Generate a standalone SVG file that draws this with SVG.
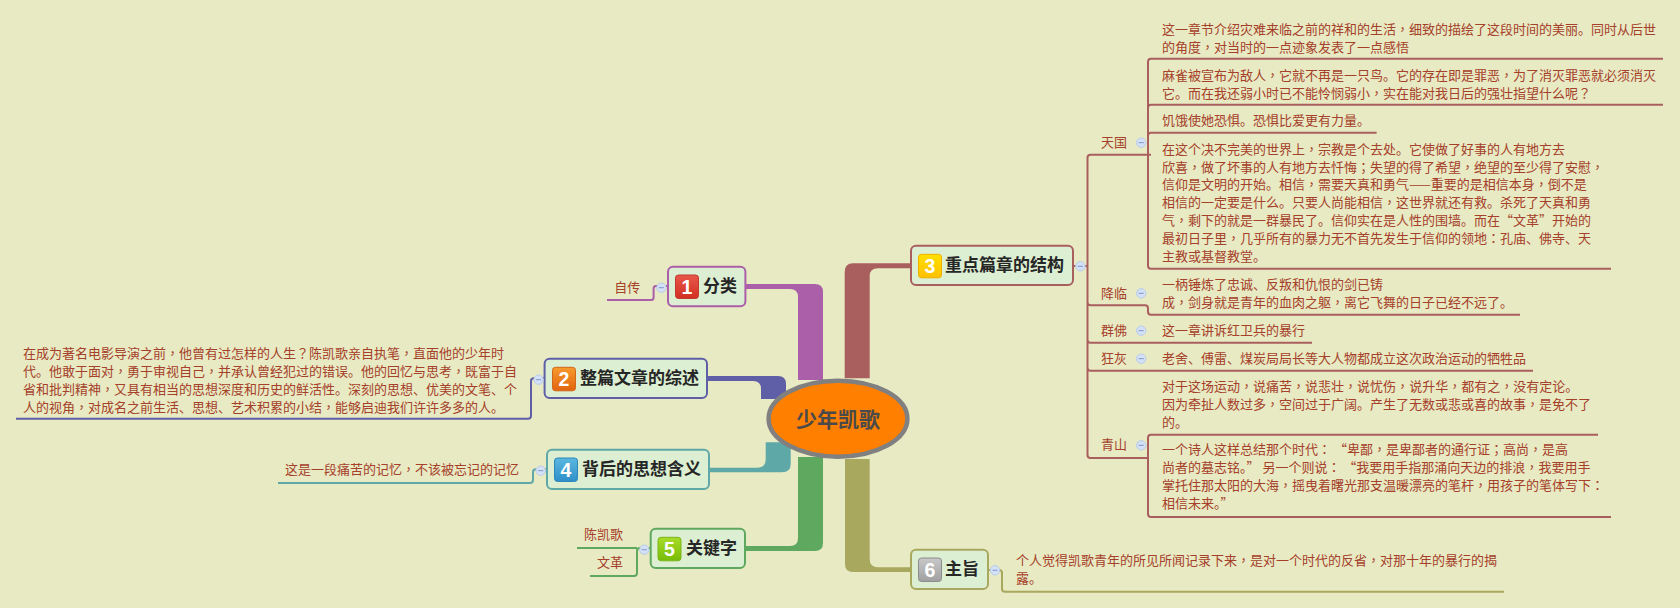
<svg xmlns="http://www.w3.org/2000/svg" width="1680" height="608" viewBox="0 0 1680 608">
<defs>
<style>
text{font-family:"Noto Sans CJK SC","Liberation Sans",sans-serif}
.t{font-size:13px;fill:#a5402a;transform:translateY(-.7px)}
.p{font-family:"Noto Sans CJK TC","Liberation Sans",sans-serif}
.h{font-size:17px;font-weight:700;fill:#262626}
.n{font-family:"Liberation Sans",sans-serif;font-size:19.500px;font-weight:700;fill:#fff;text-anchor:middle}
.box{fill:#dcefd2;stroke-width:2}
.l{fill:none;stroke-width:2}
.ic{stroke-width:1}
.tg circle{fill:#d3e0f5;stroke:#b9cdea;stroke-width:1}
.tg path{stroke:#7f97c8;stroke-width:1;fill:none}
.c1{stroke:#aa5fa8}.c2{stroke:#5f5fa8}.c3{stroke:#aa5f5f}.c4{stroke:#5fa8a8}.c5{stroke:#5fa85f}.c6{stroke:#a8a85f}
</style>
<linearGradient id="g1" x1="0" y1="0" x2="0" y2="1"><stop offset="0" stop-color="#e8574a"/><stop offset="1" stop-color="#d22f22"/></linearGradient>
<linearGradient id="g2" x1="0" y1="0" x2="0" y2="1"><stop offset="0" stop-color="#f79a2e"/><stop offset="1" stop-color="#e2640e"/></linearGradient>
<linearGradient id="g3" x1="0" y1="0" x2="0" y2="1"><stop offset="0" stop-color="#ffe000"/><stop offset="1" stop-color="#ffc000"/></linearGradient>
<linearGradient id="g4" x1="0" y1="0" x2="0" y2="1"><stop offset="0" stop-color="#5ab8e0"/><stop offset="1" stop-color="#2f8fc8"/></linearGradient>
<linearGradient id="g5" x1="0" y1="0" x2="0" y2="1"><stop offset="0" stop-color="#a8dc28"/><stop offset="1" stop-color="#78bc08"/></linearGradient>
<linearGradient id="g6" x1="0" y1="0" x2="0" y2="1"><stop offset="0" stop-color="#c8c8c8"/><stop offset="1" stop-color="#a0a0a0"/></linearGradient>
<g id="tog" class="tg"><circle r="4.700"/><path d="M-2.500 0H2.500"/></g>
</defs>
<rect width="1680" height="608" fill="#e8eac3"/>

<g id="connectors">
<path fill="#aa5fa8" d="M745 284H815Q823 284 823 292V380H798V297Q798 289 790 289H745Z"/>
<path fill="#5f5fa8" d="M707 376H778Q786 376 786 384V399H761V389Q761 381 753 381H707Z"/>
<path fill="#5fa8a8" d="M709 467.700H757Q765.700 467.700 765.700 459V442.300H790.700V464Q790.700 472.300 782 472.300H709Z"/>
<path fill="#5fa85f" d="M745 546H790Q798 546 798 538V457H823V543Q823 551 815 551H745Z"/>
<path fill="#aa5f5f" d="M911 263.300H853Q844.700 263.300 844.700 272V378.300H869.700V276Q869.700 268.300 878 268.300H911Z"/>
<path fill="#a8a85f" d="M911 572H853Q845 572 845 564V459H869.700V559Q869.700 567.300 878 567.300H911Z"/>

<path class="l c1" d="M607 300H651Q653.600 300 653.600 297.500V288.500Q653.600 286 656 286H668"/>
<path class="l c2" d="M16 418.700H528Q531 418.700 531 415.700V381Q531 378.300 534 378.300H545"/>
<path class="l c4" d="M278 483H530Q533 483 533 480V472Q533 469.300 536 469.300H547"/>
<path class="l c5" d="M577 548H637M590 576H634Q637 576 637 573V551Q637 548 640 548H651"/>
<path class="l c6" d="M988 570H999Q1002 570 1002 573V588.700Q1002 591.700 1005 591.700H1504"/>
<path class="l c3" d="M1073 266H1087.500M1151 154.700H1090.500Q1087.500 154.700 1087.500 157.700V455Q1087.500 458 1090.500 458H1148M1087.500 302.300Q1087.500 305.300 1090.500 305.300H1145Q1148 305.300 1148 308.300V311.700Q1148 314.700 1151 314.700H1520M1087.500 339.700Q1087.500 342.700 1090.500 342.700H1312M1087.500 367.700Q1087.500 370.700 1090.500 370.700H1533"/>
<path class="l c3" d="M1663 58.700H1151Q1148 58.700 1148 61.700V265.700Q1148 268.700 1151 268.700H1611M1148 107.700Q1148 104.700 1151 104.700H1663M1148 135.700Q1148 132.700 1151 132.700H1376.600"/>
<path class="l c3" d="M1598 434.700H1151Q1148 434.700 1148 437.700V514Q1148 517 1151 517H1611"/>
</g>

<g id="root">
<ellipse cx="838" cy="418.700" rx="69.400" ry="38" fill="#ff7f00" stroke="#808080" stroke-width="4.500"/>
<text x="838" y="426.500" text-anchor="middle" font-size="21" font-weight="700" fill="#4a4a4a">少年凯歌</text>
</g>

<g id="node1">
<rect class="box c1" x="668" y="266.700" width="77.400" height="39.600" rx="5"/>
<rect class="ic" x="675.500" y="275" width="23" height="23.500" rx="3" fill="url(#g1)" stroke="#c0392b"/>
<text class="n" x="687" y="293.500">1</text>
<text class="h" x="703" y="292">分类</text>
<use href="#tog" x="661.400" y="287.700"/>
<text class="t" x="614.300" y="293">自传</text>
</g>

<g id="node2">
<rect class="box c2" x="544.600" y="358.700" width="162.400" height="39.300" rx="5"/>
<rect class="ic" x="552.500" y="367.300" width="23" height="23.500" rx="3" fill="url(#g2)" stroke="#d0661a"/>
<text class="n" x="564" y="385.800">2</text>
<text class="h" x="580" y="384.300">整篇文章的综述</text>
<use href="#tog" x="538.600" y="379.700"/>
<text class="t" x="23" y="358.500">在成为著名电影导演之前<tspan class="p">，</tspan>他曾有过怎样的人生<tspan class="p">？</tspan>陈凯歌亲自执笔<tspan class="p">，</tspan>直面他的少年时</text>
<text class="t" x="23" y="376.500">代。他敢于面对<tspan class="p">，</tspan>勇于审视自己<tspan class="p">，</tspan>并承认曾经犯过的错误。他的回忆与思考<tspan class="p">，</tspan>既富于自</text>
<text class="t" x="23" y="394.500">省和批判精神<tspan class="p">，</tspan>又具有相当的思想深度和历史的鲜活性。深刻的思想、优美的文笔、个</text>
<text class="t" x="23" y="412.500">人的视角<tspan class="p">，</tspan>对成名之前生活、思想、艺术积累的小结<tspan class="p">，</tspan>能够启迪我们许许多多的人。</text>
</g>

<g id="node3">
<rect class="box c3" x="911" y="245.700" width="162" height="39.300" rx="5"/>
<rect class="ic" x="918.500" y="254.300" width="23" height="23.500" rx="3" fill="url(#g3)" stroke="#f0b000"/>
<text class="n" x="930" y="272.800">3</text>
<text class="h" x="945" y="271.300">重点篇章的结构</text>
<use href="#tog" x="1080.400" y="266.300"/>
<text class="t" x="1101" y="147.800">天国</text><use href="#tog" x="1141.200" y="142.700"/>
<text class="t" x="1101" y="298.800">降临</text><use href="#tog" x="1141.200" y="293.300"/>
<text class="t" x="1101" y="335.800">群佛</text><use href="#tog" x="1141.200" y="330.700"/>
<text class="t" x="1101" y="363.800">狂灰</text><use href="#tog" x="1141.200" y="358.700"/>
<text class="t" x="1101" y="449.800">青山</text><use href="#tog" x="1141.200" y="445.300"/>
<text class="t" x="1162" y="34.500">这一章节介绍灾难来临之前的祥和的生活<tspan class="p">，</tspan>细致的描绘了这段时间的美丽。同时从后世</text>
<text class="t" x="1162" y="52.500">的角度<tspan class="p">，</tspan>对当时的一点迹象发表了一点感悟</text>
<text class="t" x="1162" y="80.500">麻雀被宣布为敌人<tspan class="p">，</tspan>它就不再是一只鸟。它的存在即是罪恶<tspan class="p">，</tspan>为了消灭罪恶就必须消灭</text>
<text class="t" x="1162" y="98.500">它。而在我还弱小时已不能怜悯弱小<tspan class="p">，</tspan>实在能对我日后的强壮指望什么呢<tspan class="p">？</tspan></text>
<text class="t" x="1162" y="126">饥饿使她恐惧。恐惧比爱更有力量。</text>
<text class="t" x="1162" y="154.500">在这个决不完美的世界上<tspan class="p">，</tspan>宗教是个去处。它使做了好事的人有地方去</text>
<text class="t" x="1162" y="172.500">欣喜<tspan class="p">，</tspan>做了坏事的人有地方去忏悔<tspan class="p">；</tspan>失望的得了希望<tspan class="p">，</tspan>绝望的至少得了安慰<tspan class="p">，</tspan></text>
<text class="t" x="1162" y="190.200">信仰是文明的开始。相信<tspan class="p">，</tspan>需要天真和勇气——重要的是相信本身<tspan class="p">，</tspan>倒不是</text>
<text class="t" x="1162" y="208.200">相信的一定要是什么。只要人尚能相信<tspan class="p">，</tspan>这世界就还有救。杀死了天真和勇</text>
<text class="t" x="1162" y="226.200">气<tspan class="p">，</tspan>剩下的就是一群暴民了。信仰实在是人性的围墙。而在“文革”开始的</text>
<text class="t" x="1162" y="244.200">最初日子里<tspan class="p">，</tspan>几乎所有的暴力无不首先发生于信仰的领地<tspan class="p">：</tspan>孔庙、佛寺、天</text>
<text class="t" x="1162" y="262.200">主教或基督教堂。</text>
<text class="t" x="1162" y="290.200">一柄锤炼了忠诚、反叛和仇恨的剑已铸</text>
<text class="t" x="1162" y="308.200">成<tspan class="p">，</tspan>剑身就是青年的血肉之躯<tspan class="p">，</tspan>离它飞舞的日子已经不远了。</text>
<text class="t" x="1162" y="336">这一章讲诉红卫兵的暴行</text>
<text class="t" x="1162" y="364">老舍、傅雷、煤炭局局长等大人物都成立这次政治运动的牺牲品</text>
<text class="t" x="1162" y="392">对于这场运动<tspan class="p">，</tspan>说痛苦<tspan class="p">，</tspan>说悲壮<tspan class="p">，</tspan>说忧伤<tspan class="p">，</tspan>说升华<tspan class="p">，</tspan>都有之<tspan class="p">，</tspan>没有定论。</text>
<text class="t" x="1162" y="410">因为牵扯人数过多<tspan class="p">，</tspan>空间过于广阔。产生了无数或悲或喜的故事<tspan class="p">，</tspan>是免不了</text>
<text class="t" x="1162" y="428">的。</text>
<text class="t" x="1162" y="455">一个诗人这样总结那个时代<tspan class="p">：</tspan> “卑鄙<tspan class="p">，</tspan>是卑鄙者的通行证<tspan class="p">；</tspan>高尚<tspan class="p">，</tspan>是高</text>
<text class="t" x="1162" y="473">尚者的墓志铭。” 另一个则说<tspan class="p">：</tspan> “我要用手指那涌向天边的排浪<tspan class="p">，</tspan>我要用手</text>
<text class="t" x="1162" y="491">掌托住那太阳的大海<tspan class="p">，</tspan>摇曳着曙光那支温暖漂亮的笔杆<tspan class="p">，</tspan>用孩子的笔体写下<tspan class="p">：</tspan></text>
<text class="t" x="1162" y="509">相信未来。”</text>
</g>

<g id="node4">
<rect class="box c4" x="547" y="449.700" width="162" height="39.300" rx="5"/>
<rect class="ic" x="554.500" y="458" width="23" height="23.500" rx="3" fill="url(#g4)" stroke="#2f86b8"/>
<text class="n" x="566" y="476.500">4</text>
<text class="h" x="582" y="475">背后的思想含义</text>
<use href="#tog" x="540.700" y="470.700"/>
<text class="t" x="285" y="475">这是一段痛苦的记忆<tspan class="p">，</tspan>不该被忘记的记忆</text>
</g>

<g id="node5">
<rect class="box c5" x="650.700" y="528.700" width="94.300" height="39.300" rx="5"/>
<rect class="ic" x="658" y="537.300" width="23" height="23.500" rx="3" fill="url(#g5)" stroke="#7ab51d"/>
<text class="n" x="669.500" y="555.800">5</text>
<text class="h" x="686" y="554.300">关键字</text>
<use href="#tog" x="644.300" y="549.700"/>
<text class="t" x="584" y="539.700">陈凯歌</text>
<text class="t" x="597" y="567.700">文革</text>
</g>

<g id="node6">
<rect class="box c6" x="911" y="549.700" width="77" height="39.300" rx="5"/>
<rect class="ic" x="918.500" y="558" width="23" height="23.500" rx="3" fill="url(#g6)" stroke="#8c8c8c"/>
<text class="n" x="930" y="576.500">6</text>
<text class="h" x="945" y="575">主旨</text>
<use href="#tog" x="995" y="570.300"/>
<text class="t" x="1016" y="565.700">个人觉得凯歌青年的所见所闻记录下来<tspan class="p">，</tspan>是对一个时代的反省<tspan class="p">，</tspan>对那十年的暴行的揭</text>
<text class="t" x="1016" y="583.300">露。</text>
</g>
</svg>
